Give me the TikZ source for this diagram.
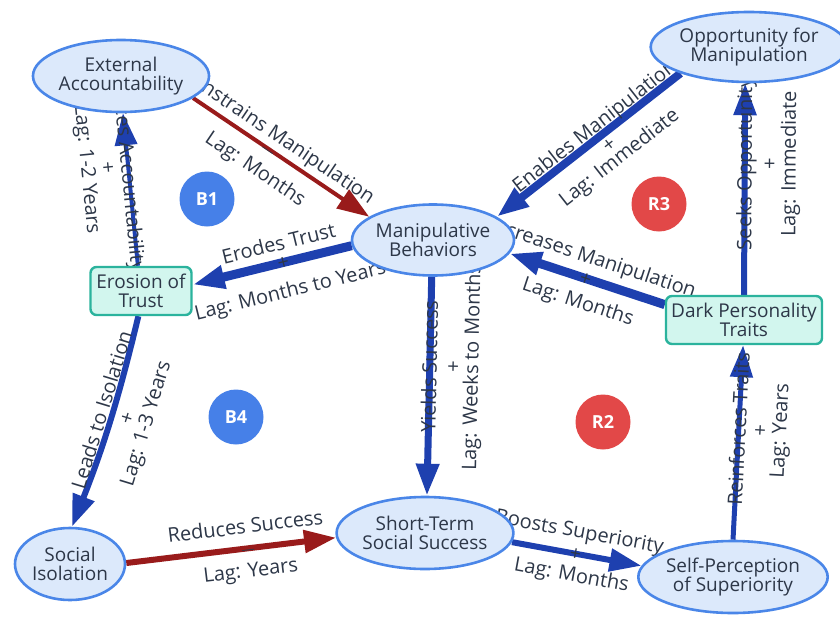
\documentclass[tikz,border=0pt]{standalone}
\usepackage{fontspec}
\setmainfont{Open Sans}
\usetikzlibrary{shapes.geometric,arrows.meta,positioning}
\pgfdeclarelayer{background}
\pgfsetlayers{background,main}

\definecolor{ink}{HTML}{2D3748}
\definecolor{varline}{HTML}{4A86E8}
\definecolor{varfill}{HTML}{DCE9FB}
\definecolor{stockline}{HTML}{2BB39D}
\definecolor{stockfill}{HTML}{D2F6EE}
\definecolor{plusblue}{HTML}{1E40AF}
\definecolor{minusred}{HTML}{991B1B}
\definecolor{balblue}{HTML}{4680E8}
\definecolor{reinred}{HTML}{E24848}

\newcommand{\nodetxt}{\fontsize{19}{19.5}\selectfont}
\newcommand{\edgetxt}{\fontsize{20}{22}\selectfont}
\newcommand{\badgetxt}{\fontsize{18}{18}\selectfont\bfseries}

\tikzset{
  varnode/.style={ellipse, draw=varline, fill=varfill, line width=2.6pt,
    align=center, font=\nodetxt, text=ink, inner sep=0pt},
  stocknode/.style={rectangle, rounded corners=6pt, draw=stockline, fill=stockfill,
    line width=2.4pt, align=center, font=\nodetxt, text=ink, inner sep=0pt},
  badge/.style={circle, minimum size=55pt, inner sep=0pt, text=white, font=\badgetxt},
  link/.style={-{Triangle[length=32pt,width=22pt]}},
  poslink/.style={link, draw=plusblue},
  neglink/.style={link, draw=minusred},
  lbl/.style={sloped, font=\edgetxt, text=ink, inner xsep=0pt,
    text height=15pt, text depth=1pt},
  lblon/.style={lbl, anchor=center, inner ysep=0pt},
  lblup/.style={lbl, anchor=south, inner ysep=#1},
  lblup/.default=7pt,
  lbldown/.style={lbl, anchor=north, inner ysep=#1},
  lbldown/.default=12pt,
}

\begin{document}
\begin{tikzpicture}[x=1pt,y=1pt]

    \useasboundingbox (0,0) rectangle (840,-629);

    % Variables
    \node[varnode, minimum width=161pt, minimum height=72pt] (ea) at (121,-76) {External\\Accountability};
    \node[varnode, minimum width=170pt, minimum height=70pt] (om) at (749,-47) {Opportunity for\\Manipulation};
    \node[varnode, minimum width=144pt, minimum height=71pt] (mb) at (433,-240) {Manipulative\\Behaviors};
    \node[varnode, minimum width=110pt, minimum height=72pt] (si) at (70,-564) {Social\\Isolation};
    \node[varnode, minimum width=168pt, minimum height=72pt] (ss) at (425,-533) {Short-Term\\Social Success};
    \node[varnode, minimum width=172pt, minimum height=72pt] (sp) at (733,-577) {Self-Perception\\of Superiority};

    % Stocks
    \node[stocknode, minimum width=101pt, minimum height=48pt] (et) at (141,-291) {Erosion of\\Trust};
    \node[stocknode, minimum width=156pt, minimum height=48pt] (dp) at (744,-320) {Dark Personality\\Traits};

    % Loop markers
    \node[badge, fill=balblue] (b1) at (207,-199) {B1};
    \node[badge, fill=reinred] (r3) at (659,-204) {R3};
    \node[badge, fill=balblue] (b4) at (236,-417) {B4};
    \node[badge, fill=reinred] (r2) at (603,-422) {R2};

    \begin{pgfonlayer}{background}

    % Accountability constrains manipulation
    \draw[neglink, line width=4pt] (ea.-17) -- (mb.160)
        node[lblup, pos=.43] {Constrains Manipulation}
        node[lblon, pos=.43] {$-$}
        node[lbldown=13pt, pos=.43] {Lag: Months};

    % Manipulation erodes trust
    \draw[poslink, line width=9pt] (mb.184) -- (et.7)
        node[lblup, pos=.43] {Erodes Trust}
        node[lblon, pos=.43] {+}
        node[lbldown=16pt, pos=.43] {Lag: Months to Years};

    % Trust back to accountability
    \draw[poslink, line width=4pt] (et.97) -- (ea.-87)
        node[lblon, pos=.66] {Reduces Accountability}
        node[lbldown=10pt, pos=.66] {+}
        node[lbldown=30pt, pos=.66] {Lag: 1-2 Years};

    % Trust leads to isolation
    \draw[poslink, line width=6pt] (et.-96) to[bend left=4]
        node[lblup=0pt, pos=.45] {Leads to Isolation}
        node[lbldown=4pt, pos=.45] {+}
        node[lbldown=23pt, pos=.45] {Lag: 1-3 Years} (si.87);

    % Isolation reduces success
    \draw[neglink, line width=6pt] (si.1) -- (ss.183)
        node[lblup=11pt, pos=.58] {Reduces Success}
        node[lblon, pos=.58] {$-$}
        node[lbldown=11pt, pos=.58] {Lag: Years};

    % Manipulation yields success
    \draw[poslink, line width=7pt] (mb.268) -- (ss.87)
        node[lblon, pos=.41] {Yields Success}
        node[lbldown=12pt, pos=.41] {+}
        node[lbldown=30pt, pos=.41] {Lag: Weeks to Months};

    % Success boosts superiority
    \draw[poslink, line width=6pt] (ss.-6) -- (sp.173)
        node[lblup=12pt, pos=.49] {Boosts Superiority}
        node[lblon, pos=.49] {+}
        node[lbldown=10pt, pos=.49] {Lag: Months};

    % Superiority reinforces traits
    \draw[poslink, line width=5pt] (sp.90) -- (dp.268)
        node[lblon, pos=.57] {Reinforces Traits}
        node[lbldown=11pt, pos=.57] {+}
        node[lbldown=30pt, pos=.57] {Lag: Years};

    % Traits increase manipulation
    \draw[poslink, line width=9pt] (dp.169) -- (mb.-10)
        node[lblup=10pt, pos=.51] {Increases Manipulation}
        node[lblon, pos=.51] {+}
        node[lbldown=11pt, pos=.51] {Lag: Months};

    % Traits seek opportunity
    \draw[poslink, line width=6pt] (dp.90) -- (om.264)
        node[lblon, pos=.62] {Seeks Opportunity}
        node[lbldown=14pt, pos=.62] {+}
        node[lbldown=33pt, pos=.62] {Lag: Immediate};

    % Opportunity enables manipulation
    \draw[poslink, line width=8pt] (om.201) -- (mb.20)
        node[lblup=0pt, pos=.43] {Enables Manipulation}
        node[lbldown=0pt, pos=.43] {+}
        node[lbldown=16pt, pos=.43] {Lag: Immediate};

    \end{pgfonlayer}

\end{tikzpicture}
\end{document}
